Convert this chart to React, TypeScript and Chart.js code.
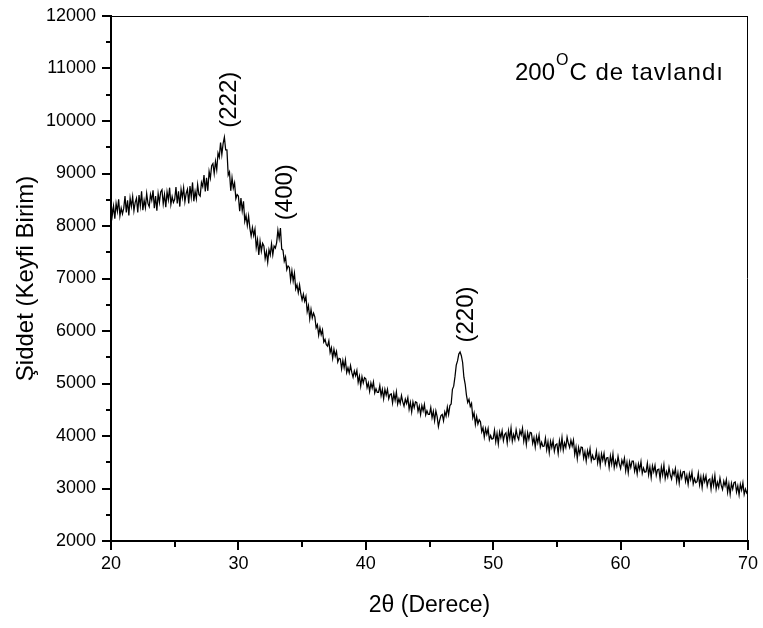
import React, { useEffect, useRef } from "react";
import { Chart, registerables } from "chart.js";

Chart.register(...registerables);

// 2θ scan: start 20°, step 0.1°
const twoThetaStart = 20;
const twoThetaStep = 0.1;

const intensity20to30 = [
  8470, 8200, 8380, 8140, 8430, 8280, 8510, 8190, 8340, 8230,
  8340, 8570, 8260, 8490, 8200, 8530, 8370, 8560, 8290, 8450,
  8530, 8260, 8590, 8380, 8660, 8300, 8490, 8350, 8620, 8430,
  8370, 8600, 8490, 8680, 8340, 8570, 8290, 8620, 8450, 8650,
  8690, 8420, 8600, 8360, 8650, 8500, 8730, 8410, 8560, 8450,
  8510, 8740, 8430, 8660, 8370, 8700, 8540, 8730, 8460, 8620,
  8700, 8430, 8760, 8550, 8830, 8470, 8660, 8520, 8790, 8600,
  8570, 8830, 8750, 8970, 8660, 8920, 8670, 9040, 8910, 9150,
  9190, 9000, 9230, 9070, 9390, 9310, 9590, 9360, 9570, 9690,
  9450, 9450, 8970, 9030, 8670, 8920, 8720, 8820, 8520, 8600,
];
const intensity30to40 = [
  8570, 8280, 8530, 8290, 8470, 8090, 8200, 8010, 8190, 7960,
  7810, 7970, 7820, 7940, 7590, 7740, 7450, 7710, 7520, 7670,
  7620, 7380, 7510, 7310, 7550, 7450, 7660, 7450, 7620, 7580,
  7680, 7920, 7760, 7960, 7560, 7540, 7330, 7410, 7170, 7240,
  7210, 6970, 7150, 6950, 7100, 6800, 6880, 6730, 6880, 6710,
  6590, 6700, 6570, 6660, 6370, 6480, 6230, 6410, 6250, 6340,
  6270, 6060, 6120, 5920, 6060, 5930, 6020, 5790, 5840, 5740,
  5710, 5810, 5590, 5680, 5480, 5650, 5520, 5610, 5410, 5480,
  5470, 5280, 5440, 5300, 5450, 5210, 5300, 5200, 5340, 5210,
  5120, 5240, 5150, 5250, 5020, 5140, 4950, 5130, 5010, 5110,
];
const intensity40to50 = [
  5090, 4920, 5010, 4850, 5010, 4910, 5030, 4820, 4900, 4830,
  4830, 4960, 4770, 4890, 4710, 4890, 4780, 4890, 4710, 4790,
  4800, 4630, 4810, 4680, 4840, 4610, 4710, 4620, 4770, 4650,
  4570, 4700, 4620, 4730, 4510, 4640, 4460, 4650, 4540, 4650,
  4640, 4470, 4570, 4410, 4580, 4480, 4600, 4400, 4480, 4410,
  4410, 4540, 4350, 4470, 4290, 4480, 4370, 4180, 4300, 4390,
  4410, 4290, 4460, 4380, 4550, 4410, 4580, 4610, 4890, 4950,
  5130, 5350, 5430, 5560, 5600, 5530, 5400, 5120, 4990, 4780,
  4640, 4700, 4560, 4620, 4350, 4440, 4220, 4370, 4230, 4310,
  4270, 4080, 4160, 3980, 4140, 4030, 4140, 3930, 4010, 3940,
];
const intensity50to60 = [
  3950, 4110, 3890, 4050, 3850, 4080, 3970, 4100, 3910, 4030,
  4060, 3870, 4100, 3950, 4150, 3900, 4030, 3930, 4120, 3990,
  3930, 4100, 4020, 4150, 3900, 4050, 3840, 4060, 3940, 4070,
  4060, 3860, 3970, 3790, 3990, 3870, 4020, 3790, 3880, 3800,
  3810, 3960, 3740, 3890, 3680, 3900, 3780, 3910, 3710, 3830,
  3850, 3670, 3910, 3760, 3970, 3730, 3870, 3780, 3980, 3860,
  3780, 3920, 3810, 3920, 3650, 3790, 3570, 3780, 3660, 3790,
  3780, 3580, 3700, 3520, 3720, 3610, 3760, 3530, 3630, 3550,
  3560, 3710, 3490, 3640, 3440, 3660, 3540, 3670, 3470, 3580,
  3590, 3400, 3620, 3470, 3660, 3400, 3530, 3430, 3610, 3470,
];
const intensity60to70 = [
  3380, 3540, 3460, 3580, 3340, 3500, 3300, 3510, 3400, 3520,
  3520, 3330, 3450, 3280, 3470, 3360, 3510, 3290, 3390, 3310,
  3320, 3480, 3260, 3410, 3210, 3430, 3320, 3440, 3250, 3360,
  3370, 3180, 3410, 3260, 3450, 3190, 3320, 3220, 3400, 3260,
  3180, 3340, 3260, 3380, 3140, 3300, 3100, 3310, 3200, 3320,
  3325, 3135, 3250, 3080, 3280, 3170, 3310, 3090, 3190, 3110,
  3130, 3290, 3070, 3220, 3020, 3240, 3130, 3240, 3050, 3160,
  3180, 2990, 3210, 3060, 3250, 2990, 3120, 3020, 3200, 3060,
  2980, 3140, 3050, 3170, 2930, 3090, 2890, 3100, 2990, 3110,
  3125, 2935, 3050, 2880, 3080, 2970, 3110, 2890, 2990, 2915,
  2960,
];

const peakLabels = ["(222)", "(400)", "(220)"];
const peakPositions = [28.9, 33.3, 47.5];
const peakIntensities = [9680, 7920, 5590];

const xTickValues = [20, 25, 30, 35, 40, 45, 50, 55, 60, 65, 70];
const yTickValues = [2000, 2500, 3000, 3500, 4000, 4500, 5000, 5500, 6000, 6500, 7000, 7500, 8000, 8500, 9000, 9500, 10000, 10500, 11000, 11500, 12000];

const xTitle = "2θ (Derece)";
const yTitle = "Şiddet (Keyfi Birim)";
const annotationMain = "200";
const annotationSup = "O";
const annotationRest = "C de tavlandı";

const FONT = "'Liberation Sans', Arial, sans-serif";

const intensity = [
  ...intensity20to30,
  ...intensity30to40,
  ...intensity40to50,
  ...intensity50to60,
  ...intensity60to70,
];

const points = intensity.map((y, i) => ({
  x: Math.round((twoThetaStart + i * twoThetaStep) * 10) / 10,
  y,
}));

const zeroPad = (s: any) => {
  s.paddingTop = 0;
  s.paddingBottom = 0;
  s.paddingLeft = 0;
  s.paddingRight = 0;
};

const decorPlugin = {
  id: "decor",
  beforeDraw(chart: any) {
    const ctx = chart.ctx;
    ctx.save();
    ctx.fillStyle = "#ffffff";
    ctx.fillRect(0, 0, chart.width, chart.height);
    ctx.restore();
  },
  afterDraw(chart: any) {
    const ctx = chart.ctx;
    const xs = chart.scales.x;
    const ys = chart.scales.y;
    const ca = chart.chartArea;
    ctx.save();
    ctx.strokeStyle = "#000";
    // top & right frame
    ctx.lineWidth = 1;
    ctx.beginPath();
    ctx.moveTo(ca.left, ca.top + 0.5);
    ctx.lineTo(ca.right, ca.top + 0.5);
    ctx.moveTo(ca.right - 0.5, ca.top);
    ctx.lineTo(ca.right - 0.5, ca.bottom);
    ctx.stroke();
    // ticks
    ctx.lineWidth = 2;
    ctx.beginPath();
    yTickValues.forEach((v) => {
      const y = Math.round(ys.getPixelForValue(v));
      const len = v % 1000 === 0 ? 9 : 5;
      ctx.moveTo(ca.left - len, y);
      ctx.lineTo(ca.left, y);
    });
    xTickValues.forEach((v) => {
      const x = Math.round(xs.getPixelForValue(v));
      const len = v % 10 === 0 ? 9 : 6;
      ctx.moveTo(x, ca.bottom);
      ctx.lineTo(x, ca.bottom + len);
    });
    ctx.stroke();

    // peak labels
    ctx.fillStyle = "#000";
    ctx.font = `24px ${FONT}`;
    ctx.textBaseline = "middle";
    ctx.textAlign = "left";
    peakLabels.forEach((t, i) => {
      const px = xs.getPixelForValue(peakPositions[i]) + 5;
      const py = ys.getPixelForValue(peakIntensities[i]) - 10;
      ctx.save();
      ctx.translate(px, py);
      ctx.rotate(-Math.PI / 2);
      ctx.fillText(t, 0, 0);
      ctx.restore();
    });

    // annotation
    ctx.textBaseline = "alphabetic";
    ctx.font = `24px ${FONT}`;
    let ax = ca.right - 233;
    const ay = ca.top + 64;
    ctx.fillText(annotationMain, ax, ay);
    ax += ctx.measureText(annotationMain).width + 1;
    ctx.font = `16px ${FONT}`;
    ctx.fillText(annotationSup, ax, ay - 15);
    ax += ctx.measureText(annotationSup).width + 1;
    ctx.font = `24px ${FONT}`;
    (ctx as any).letterSpacing = "1px";
    ctx.fillText(annotationRest, ax, ay);
    (ctx as any).letterSpacing = "0px";
    ctx.restore();
  },
};

export default function App() {
  const ref = useRef<HTMLCanvasElement | null>(null);
  useEffect(() => {
    document.body.style.margin = "0";
    const chart = new Chart(ref.current as HTMLCanvasElement, {
      type: "line",
      data: {
        datasets: [
          {
            data: points,
            borderColor: "#000",
            borderWidth: 1.25,
            pointRadius: 0,
            tension: 0,
            fill: false,
          },
        ],
      },
      options: {
        responsive: false,
        animation: false,
        parsing: false as any,
        layout: { padding: { top: 16, right: 15, left: 0, bottom: 0 } },
        plugins: { legend: { display: false }, tooltip: { enabled: false } },
        scales: {
          x: {
            type: "linear",
            min: 20,
            max: 70,
            afterFit: (s: any) => {
              s.height = 87;
              zeroPad(s);
            },
            grid: { display: false, drawTicks: false },
            border: { display: true, color: "#000", width: 2 },
            ticks: {
              stepSize: 10,
              color: "#000",
              padding: 12,
              font: { family: FONT, size: 18 },
              maxRotation: 0,
              callback: (v: any) => String(v),
            },
            title: {
              display: true,
              text: xTitle,
              color: "#000",
              font: { family: FONT, size: 23 },
              padding: { top: 0, bottom: 9 },
            },
          },
          y: {
            type: "linear",
            min: 2000,
            max: 12000,
            afterFit: (s: any) => {
              s.width = 111;
              zeroPad(s);
            },
            grid: { display: false, drawTicks: false },
            border: { display: true, color: "#000", width: 2 },
            ticks: {
              stepSize: 1000,
              color: "#000",
              padding: 15,
              font: { family: FONT, size: 18 },
              callback: (v: any) => String(v),
            },
            title: {
              display: true,
              text: yTitle,
              color: "#000",
              font: { family: FONT, size: 24 },
              padding: { top: 12, bottom: 0 },
            },
          },
        },
      },
      plugins: [decorPlugin],
    });
    return () => chart.destroy();
  }, []);
  return (
    <div style={{ position: "fixed", left: 0, top: 0, width: 763, height: 628 }}>
      <canvas ref={ref} width={763} height={628} style={{ display: "block" }} />
    </div>
  );
}
